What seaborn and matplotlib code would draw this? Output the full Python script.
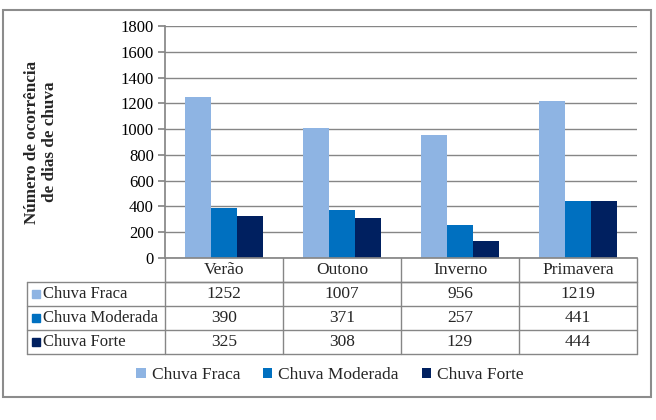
import matplotlib
matplotlib.use("Agg")
import matplotlib.pyplot as plt
import matplotlib.transforms as mtransforms
from matplotlib.patches import Patch, Rectangle
import numpy as np
import pandas as pd
import seaborn as sns

# data
estacoes = ["Verão", "Outono", "Inverno", "Primavera"]
tipos = ["Chuva Fraca", "Chuva Moderada", "Chuva Forte"]
chuva_fraca = [1252, 1007, 956, 1219]
chuva_moderada = [390, 371, 257, 441]
chuva_forte = [325, 308, 129, 444]
cores = ["#8EB4E3", "#0070C0", "#002060"]

valores = [chuva_fraca, chuva_moderada, chuva_forte]
df = pd.DataFrame({
    "estacao": estacoes * 3,
    "tipo": np.repeat(tipos, len(estacoes)),
    "valor": chuva_fraca + chuva_moderada + chuva_forte,
})

sns.set_theme(style="white")
plt.rcParams["font.family"] = ["Liberation Serif", "DejaVu Serif"]

W, H = 656, 420
fig = plt.figure(figsize=(W / 100, H / 100), dpi=100)

# outer frame
fig.patches.append(Rectangle((3 / W, 1 - 397 / H), 648 / W, 387 / H,
                             transform=fig.transFigure, fill=False,
                             edgecolor="#8c8c8c", linewidth=1.5))

ax_l, ax_r, ax_t, ax_b = 165, 637, 26, 258
ax = fig.add_axes([ax_l / W, 1 - ax_b / H, (ax_r - ax_l) / W, (ax_b - ax_t) / H])

sns.barplot(data=df, x="estacao", y="valor", hue="tipo", palette=cores,
            hue_order=tipos, order=estacoes, width=0.66, saturation=1,
            linewidth=0, legend=False, ax=ax)

grid_c = "#868686"
ax.set_ylim(0, 1800)
ax.set_xlim(-0.5, 3.5)
ax.set_yticks(np.arange(0, 1801, 200))
ax.yaxis.grid(True, color=grid_c, linewidth=1)
ax.set_axisbelow(True)
ax.set_xticks([])
ax.set_xlabel("")
ax.set_ylabel("")
for s in ["top", "right"]:
    ax.spines[s].set_visible(False)
ax.spines["left"].set_color(grid_c)
ax.spines["bottom"].set_color(grid_c)
ax.tick_params(axis="y", left=True, length=5, color=grid_c, labelsize=12,
               pad=3, labelcolor="black")

fig.text(41 / W, 1 - 142 / H, "Número de ocorrência\nde dias de chuva",
         rotation=90, ha="center", va="center", fontsize=12.3,
         fontweight="bold", linespacing=1.15)

# data table below the axis
tr = mtransforms.blended_transform_factory(ax.transData, ax.transAxes)
h = 24 / (ax_b - ax_t)
unit = (ax_r - ax_l) / 4
x_left = (27 - ax_l) / unit - 0.5
line_kw = dict(color=grid_c, linewidth=1, transform=tr, clip_on=False)

ax.plot([-0.5, 3.5], [-h, -h], **line_kw)
for r in range(1, 5):
    ax.plot([x_left, 3.5], [-r * h, -r * h], **line_kw)
for xb in np.arange(-0.5, 3.6, 1):
    ax.plot([xb, xb], [0, -4 * h], **line_kw)
ax.plot([x_left, x_left], [-h, -4 * h], **line_kw)

for i, est in enumerate(estacoes):
    ax.text(i, -0.5 * h, est, transform=tr, ha="center", va="center",
            fontsize=12.5)

for r, (nome, vals, cor) in enumerate(zip(tipos, valores, cores)):
    yc = -(r + 1.5) * h
    ax.plot([(36 - ax_l) / unit - 0.5], [yc], marker="s", markersize=5.5,
            color=cor, transform=tr, clip_on=False, linestyle="none")
    ax.text((43 - ax_l) / unit - 0.5, yc, nome, transform=tr, ha="left",
            va="center", fontsize=12)
    for i, v in enumerate(vals):
        ax.text(i, yc, str(v), transform=tr, ha="center", va="center",
                fontsize=12.5)

handles = [Patch(facecolor=c, edgecolor="none", label=t) for t, c in zip(tipos, cores)]
fig.legend(handles=handles, loc="center", bbox_to_anchor=(330 / W, 1 - 375 / H),
           ncol=3, frameon=False, fontsize=12.5, handlelength=0.55,
           handleheight=0.55, handletextpad=0.35, columnspacing=1.3)

fig.savefig("out.png", dpi=100)
